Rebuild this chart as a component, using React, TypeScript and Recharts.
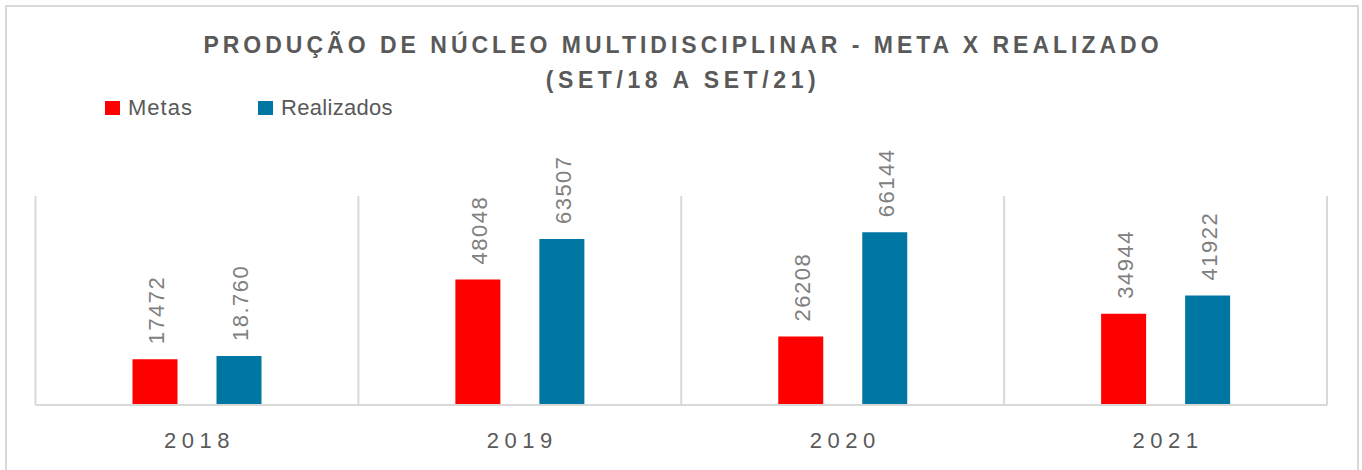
import React from "react";
import {
  BarChart,
  Bar,
  XAxis,
  YAxis,
  CartesianGrid,
  LabelList,
} from "recharts";

const YEARS = ["2018", "2019", "2020", "2021"];
const METAS = [17472, 48048, 26208, 34944];
const REALIZADOS = [18760, 63507, 66144, 41922];
const METAS_LABELS = ["17472", "48048", "26208", "34944"];
const REALIZADOS_LABELS = ["18.760", "63507", "66144", "41922"];
const SERIES_NAMES = ["Metas", "Realizados"];
const SERIES_COLORS = ["#ff0000", "#0077a2"];

const FONT = '"Liberation Sans", Arial, sans-serif';
const GRID = "#d9d9d9";

const data = YEARS.map((year, i) => ({
  year,
  metas: METAS[i],
  realizados: REALIZADOS[i],
}));

function makeLabel(labels: string[]) {
  return (props: any) => {
    const { x, y, width, index } = props;
    const px = Number(x) + Number(width) / 2 + 9.5;
    const py = Number(y) - 15;
    return (
      <text
        x={px}
        y={py}
        transform={`rotate(-90 ${px} ${py})`}
        textAnchor="start"
        fontSize={22}
        letterSpacing={1.5}
        fill="#808080"
        fontFamily={FONT}
      >
        {labels[index]}
      </text>
    );
  };
}

function YearTick(props: any) {
  const { x, y, payload } = props;
  return (
    <text
      x={x}
      y={y + 43}
      dx={2.5}
      textAnchor="middle"
      fontSize={22}
      letterSpacing={5.5}
      fill="#595959"
      fontFamily={FONT}
    >
      {payload.value}
    </text>
  );
}

export default function App() {
  return (
    <div
      style={{
        position: "relative",
        width: 1362,
        height: 470,
        overflow: "hidden",
        background: "#fff",
        fontFamily: FONT,
      }}
    >
      <style>{`body{margin:0}`}</style>
      <div
        style={{
          position: "absolute",
          left: 5,
          top: 5,
          width: 1350,
          height: 490,
          border: `2px solid ${GRID}`,
        }}
      />
      <div
        style={{
          position: "absolute",
          left: 0,
          top: 27.5,
          width: 1362,
          textAlign: "center",
          fontSize: 23,
          lineHeight: "35px",
          fontWeight: 700,
          letterSpacing: 4,
          color: "#595959",
          paddingLeft: 4,
          boxSizing: "border-box",
        }}
      >
        <div>PRODUÇÃO DE NÚCLEO MULTIDISCIPLINAR - META X REALIZADO</div>
        <div style={{ letterSpacing: 4.6 }}>(SET/18 A SET/21)</div>
      </div>
      <div
        style={{
          position: "absolute",
          left: 105,
          top: 96.7,
          display: "flex",
          fontSize: 22,
          lineHeight: "22px",
          color: "#595959",
        }}
      >
        {SERIES_NAMES.map((name, i) => (
          <div
            key={name}
            style={{
              display: "flex",
              alignItems: "flex-start",
              width: i === 0 ? 153 : "auto",
            }}
          >
            <span
              style={{
                display: "inline-block",
                width: 15,
                height: 14,
                marginTop: 4,
                marginRight: 8,
                background: SERIES_COLORS[i],
              }}
            />
            <span style={{ letterSpacing: i === 0 ? 1 : 0.3 }}>{name}</span>
          </div>
        ))}
      </div>
      <div style={{ position: "absolute", left: 0, top: 0 }}>
        <BarChart
          width={1362}
          height={470}
          data={data}
          margin={{ top: 196, right: 35, bottom: 0, left: 35.5 }}
          barSize={45}
          barGap={39}
        >
          <CartesianGrid
            horizontal={false}
            stroke={GRID}
            strokeWidth={2}
            verticalCoordinatesGenerator={({ offset }: any) =>
              [0, 1, 2, 3, 4].map(
                (i) => offset.left + (i * offset.width) / YEARS.length
              )
            }
          />
          <XAxis
            dataKey="year"
            height={65}
            tickLine={false}
            tickSize={0}
            tickMargin={0}
            axisLine={{ stroke: GRID, strokeWidth: 2 }}
            tick={<YearTick />}
            interval={0}
          />
          <YAxis hide domain={[0, 80000]} />
          <Bar
            dataKey="metas"
            name={SERIES_NAMES[0]}
            fill={SERIES_COLORS[0]}
            isAnimationActive={false}
          >
            <LabelList dataKey="metas" content={makeLabel(METAS_LABELS)} />
          </Bar>
          <Bar
            dataKey="realizados"
            name={SERIES_NAMES[1]}
            fill={SERIES_COLORS[1]}
            isAnimationActive={false}
          >
            <LabelList
              dataKey="realizados"
              content={makeLabel(REALIZADOS_LABELS)}
            />
          </Bar>
        </BarChart>
      </div>
    </div>
  );
}
